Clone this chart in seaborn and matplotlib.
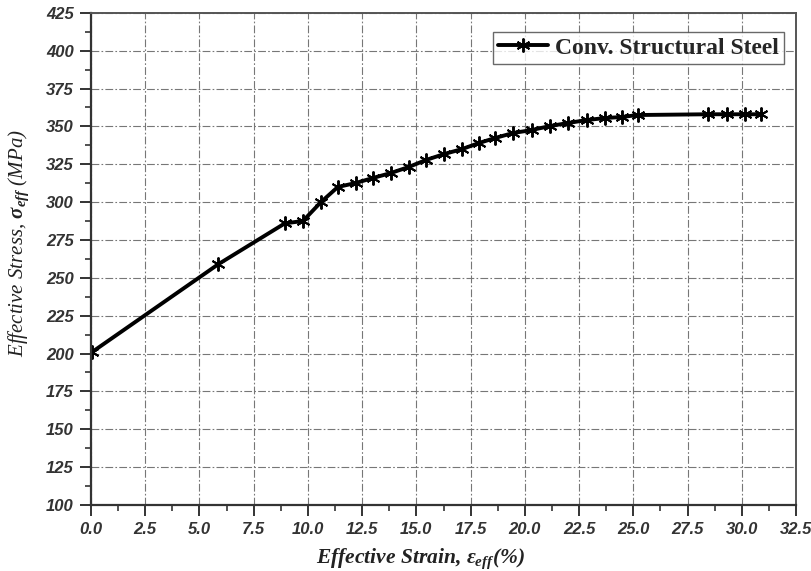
import matplotlib
matplotlib.use("Agg")
import matplotlib.pyplot as plt
import seaborn as sns
import numpy as np
import pandas as pd
from matplotlib.ticker import MultipleLocator, FormatStrFormatter

# Effective stress-strain curve for conventional structural steel
strain = [0.05, 5.87, 8.94, 9.77, 10.6, 11.38, 12.2, 12.99, 13.82, 14.65,
          15.44, 16.27, 17.1, 17.88, 18.62, 19.45, 20.32, 21.15, 21.98, 22.86,
          23.69, 24.47, 25.2, 28.43, 29.3, 30.14, 30.9]
stress = [201.0, 259.0, 286.0, 287.5, 300.0, 310.0, 312.6, 315.9, 319.2, 323.2,
          327.8, 331.7, 335.0, 339.0, 342.3, 345.6, 347.6, 350.2, 352.2, 354.2,
          355.5, 356.2, 357.5, 358.0, 358.0, 358.0, 358.0]
series_name = "Conv. Structural Steel"

df = pd.DataFrame({"strain": strain, "stress": stress})

sns.set_style("white")
plt.rcParams["mathtext.fontset"] = "custom"
plt.rcParams["mathtext.it"] = "Liberation Serif:italic:bold"
plt.rcParams["mathtext.rm"] = "Liberation Serif:italic:bold"
plt.rcParams["mathtext.bf"] = "Liberation Serif:italic:bold"

fig = plt.figure(figsize=(8.11, 5.71), dpi=100)
ax = fig.add_axes([91 / 811, 1 - 505 / 571, (796 - 91) / 811, (505 - 12.8) / 571])

sns.lineplot(data=df, x="strain", y="stress", ax=ax, color="black",
             linewidth=2.8, marker=(6, 2, 0), markersize=10,
             markeredgewidth=1.4, markeredgecolor="black",
             label=series_name, sort=False)

ax.set_xlim(0, 32.5)
ax.set_ylim(100, 425)
ax.xaxis.set_major_locator(MultipleLocator(2.5))
ax.xaxis.set_minor_locator(MultipleLocator(1.25))
ax.yaxis.set_major_locator(MultipleLocator(25))
ax.yaxis.set_minor_locator(MultipleLocator(12.5))
ax.xaxis.set_major_formatter(FormatStrFormatter("%.1f"))
ax.yaxis.set_major_formatter(FormatStrFormatter("%d"))

ax.grid(True, which="major", color="#777777", linewidth=0.8,
        linestyle=(0, (7, 2, 1.5, 2)))
ax.set_axisbelow(True)

for side in ["left", "bottom"]:
    ax.spines[side].set_color("#333333")
    ax.spines[side].set_linewidth(1.6)
for side in ["top", "right"]:
    ax.spines[side].set_color("#555555")
    ax.spines[side].set_linewidth(1.4)

ax.tick_params(axis="both", which="major", direction="out", length=8,
               width=1.4, color="#333333", labelsize=12, labelcolor="#333333",
               pad=4.5, bottom=True, left=True, top=False, right=False)
ax.tick_params(axis="both", which="minor", direction="out", length=4,
               width=1.2, color="#333333", bottom=True, left=True)
for lbl in ax.get_xticklabels() + ax.get_yticklabels():
    lbl.set_fontfamily("Liberation Sans")
    lbl.set_fontstyle("italic")
    lbl.set_fontweight("bold")

ax.set_xlabel(r"Effective Strain, $\varepsilon_{eff}$(%)", fontsize=15.5,
              family="Liberation Serif", style="italic", weight="bold",
              color="#222222")
ax.xaxis.set_label_coords(0.467, -0.085)
ax.set_ylabel(r"Effective Stress, $\sigma_{eff}$ (MPa)", fontsize=15,
              family="Liberation Serif", style="italic", weight="normal",
              color="#222222")
ax.yaxis.set_label_coords(-0.085, 0.532)

leg = ax.legend(loc="upper right", bbox_to_anchor=(0.983, 0.961),
                prop={"family": "Liberation Serif", "weight": "bold", "size": 17},
                frameon=True, fancybox=False, handlelength=2.1,
                borderpad=0.22, handletextpad=0.3, borderaxespad=0)
leg.get_frame().set_edgecolor("#444444")
leg.get_frame().set_linewidth(1.0)

fig.savefig("out.png", dpi=100)
